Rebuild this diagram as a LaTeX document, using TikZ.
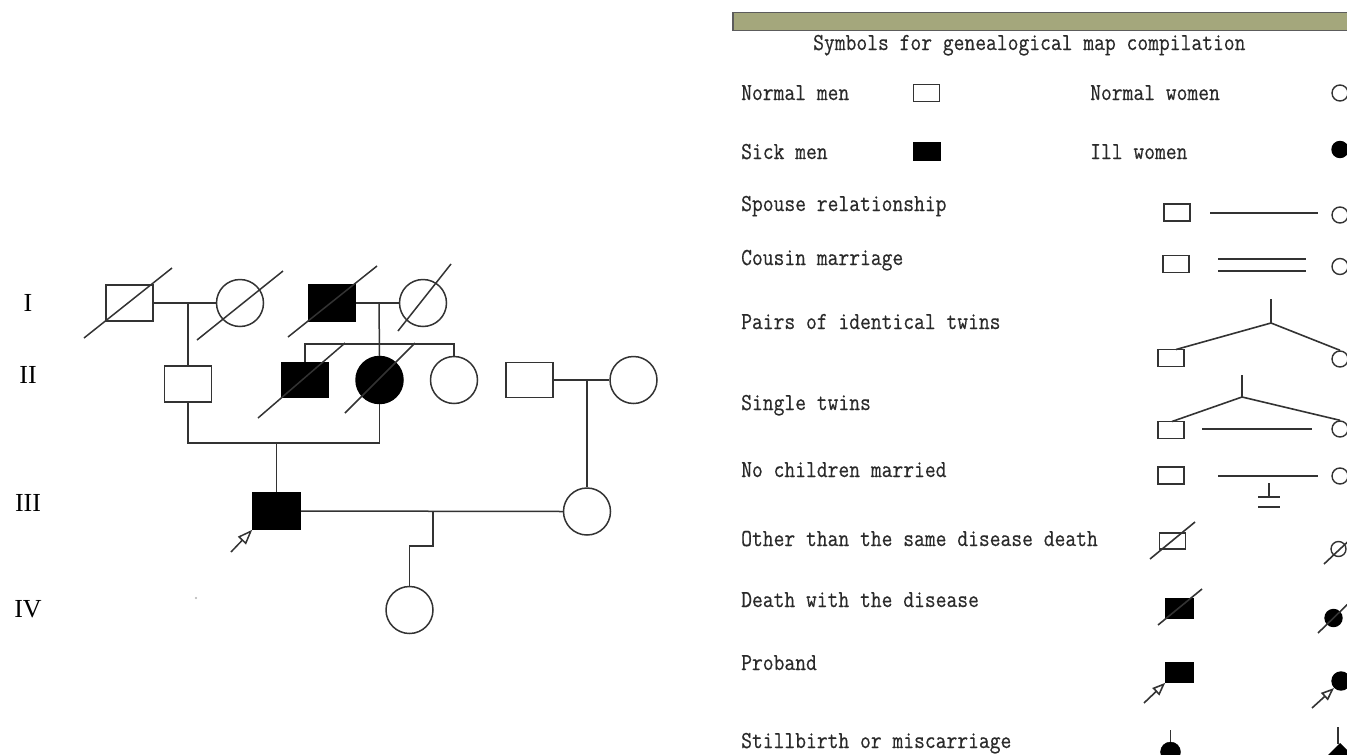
\documentclass[tikz,border=0pt]{standalone}
\usepackage{fontspec}
\setmainfont{Liberation Serif}
\newfontfamily\legendfont[FakeStretch=0.86,FakeBold=0.4]{Latin Modern Mono}
\usetikzlibrary{arrows.meta}
\definecolor{ink}{HTML}{333333}
\definecolor{txt}{HTML}{2A2A2A}
\definecolor{barcol}{HTML}{A4A77C}
\begin{document}
\begin{tikzpicture}[x=1pt,y=-1pt,
  ped/.style={draw=ink, line width=1.5pt},
  msym/.style={rectangle, draw=ink, line width=1.5pt, fill=white, inner sep=0pt, minimum width=47pt, minimum height=36pt},
  fsym/.style={circle, draw=ink, line width=1.5pt, fill=white, inner sep=0pt, minimum size=47pt},
  aff/.style={fill=black, draw=black},
  lsq/.style={rectangle, draw=ink, line width=1.6pt, fill=white, inner sep=0pt, minimum width=26pt, minimum height=17pt},
  lci/.style={circle, draw=ink, line width=1.4pt, fill=white, inner sep=0pt, minimum size=16pt},
  leg/.style={draw=ink, line width=1.6pt},
  lab/.style={anchor=base west, inner sep=0pt, text=txt, font={\fontsize{24.4}{26}\selectfont\legendfont}},
  gen/.style={inner sep=0pt, text=black, font={\fontsize{26}{28}\selectfont}}
]
\useasboundingbox (0,0) rectangle (1347,755);
\clip (0,0) rectangle (1347,755);
\fill[white] (0,0) rectangle (1347,755);

% generation labels
\node[gen] (gI) at (28,303) {I};
\node[gen] (gII) at (28,375) {II};
\node[gen] (gIII) at (28,503) {III};
\node[gen] (gIV) at (28,609) {IV};

% ---------- Generation I
\node[msym] (I1) at (129.5,303) {};
\node[fsym] (I2) at (240,303) {};
\node[msym, aff] (I3) at (332,303) {};
\node[fsym] (I4) at (423,303) {};
\draw[ped] (84,338) -- (172,268);
\draw[ped] (197,340) -- (283,271);
\draw[ped] (288,337) -- (377,266);
\draw[ped] (398,331) -- (451,264);

\coordinate (m1) at (188,303);
\coordinate (m2) at (379,303);
\draw[ped] (I1.east) -- (I2.west);
\draw[ped] (I3.east) -- (I4.west);

% ---------- Generation II
\node[msym] (II1) at (188,384) {};
\node[msym, aff, minimum width=46pt, minimum height=35pt] (II2) at (305,380) {};
\node[fsym, aff] (II3) at (379.5,380) {};
\node[fsym] (II4) at (454,380) {};
\node[msym, minimum height=35pt] (II5) at (529.5,380) {};
\node[fsym] (II6) at (633.5,380) {};

\draw[ped] (m1) -- (II1.north);
\draw[ped] (m2) -- (II3.north);
\coordinate (s1) at (305,344);
\coordinate (s2) at (454,344);
\draw[ped] (II2.north) -- (s1) -- (s2) -- (II4.north);
\draw[ped] (258,418) -- (345,343);
\draw[ped] (345,413) -- (415,343);

\draw[ped] (II5.east) -- (II6.west);
\coordinate (m3) at (587,380);

% ---------- Generation III
\node[msym, aff] (III1) at (276.5,511) {};
\node[fsym] (III2) at (587,511.5) {};
\coordinate (j1) at (276.5,443);
\draw[ped] (II1.south) |- (j1) -| (II3.south);
\draw[ped] (j1) -- (III1.north);
\draw[ped] (m3) -- (III2.north);
\draw[ped] (III1.east) -- (III2.west);
\coordinate (pa) at (231,552);
\draw[ped, -{Triangle[open, length=15pt, width=11pt]}] (pa) -- (III1.south west);

% ---------- Generation IV
\node[fsym] (IV1) at (409.5,610) {};
\coordinate (m4) at (433,511.5);
\coordinate (k1) at (433,546);
\draw[ped] (m4) -- (k1) -| (IV1.north);
\fill[gray!60] (196,598) circle (1.2);

% ---------- Legend
\draw[draw=ink!80, line width=1.2pt, fill=barcol] (733,12.5) rectangle (1360,30.5);
\node[lab] (title) at (813,50) {Symbols for genealogical map compilation};

\node[lab] (t1) at (741,100) {Normal men};
\node[lab] (t2) at (1090,100) {Normal women};
\node[lab] (t3) at (741,159) {Sick men};
\node[lab] (t4) at (1090,159) {Ill women};
\node[lab] (t5) at (741,211) {Spouse relationship};
\node[lab] (t6) at (741,265) {Cousin marriage};
\node[lab] (t7) at (741,329) {Pairs of identical twins};
\node[lab] (t8) at (741,410) {Single twins};
\node[lab] (t9) at (741,477) {No children married};
\node[lab] (t10) at (741,546) {Other than the same disease death};
\node[lab] (t11) at (741,607) {Death with the disease};
\node[lab] (t12) at (741,670) {Proband};
\node[lab] (t13) at (741,748) {Stillbirth or miscarriage};

% normal / sick
\node[lsq] (n1) at (926.5,93) {};
\node[lci] (c1) at (1340,93) {};
\node[lsq, aff] (n2) at (927,151.5) {};
\node[lci, aff] (c2) at (1340,149.5) {};

% spouse
\node[lsq] (n3) at (1177,212.5) {};
\node[lci] (c3) at (1340,215) {};
\coordinate (a3) at (1210,213);
\coordinate (b3) at (1318,213);
\draw[leg] (a3) -- (b3);

% cousin marriage
\node[lsq] (n4) at (1176,264) {};
\node[lci] (c4) at (1340,266.5) {};
\coordinate (a4) at (1218,259);
\coordinate (b4) at (1306,259);
\coordinate (a4b) at (1218,271);
\coordinate (b4b) at (1306,271);
\draw[leg] (a4) -- (b4);
\draw[leg] (a4b) -- (b4b);

% identical twins
\node[lsq] (n5) at (1171,358) {};
\node[lci] (c5) at (1340,359) {};
\coordinate (tw1) at (1271,299);
\coordinate (tw1b) at (1271,323);
\draw[leg] (tw1) -- (tw1b);
\coordinate (n5t) at (1176,349.5);
\draw[leg] (tw1b) -- (n5t);
\draw[leg] (tw1b) -- (c5.north);

% single twins
\node[lsq] (n6) at (1171,430) {};
\node[lci] (c6) at (1340,429) {};
\coordinate (tw2) at (1242,375);
\coordinate (tw2b) at (1242,397);
\draw[leg] (tw2) -- (tw2b);
\coordinate (n6t) at (1172,421.5);
\draw[leg] (tw2b) -- (n6t);
\draw[leg] (tw2b) -- (c6.north);
\coordinate (a6) at (1202,429);
\coordinate (b6) at (1312,429);
\draw[leg] (a6) -- (b6);

% no children married
\node[lsq] (n7) at (1171,475.5) {};
\node[lci] (c7) at (1340,476) {};
\coordinate (a7) at (1218,476);
\coordinate (b7) at (1318,476);
\draw[leg] (a7) -- (b7);
\coordinate (nc1) at (1269,483);
\coordinate (nc2) at (1269,497);
\draw[leg] (nc1) -- (nc2);
\draw[leg] (1258,497) -- (1280,497);
\draw[leg] (1258,507) -- (1280,507);

% other than same disease death
\node[lsq, minimum height=16pt] (n8) at (1172.5,541) {};
\draw[leg] (1150,559) -- (1195,522);
\node[lci, minimum size=15pt] (c8) at (1338.5,549) {};
\draw[leg] (1324,564) -- (1356,534);

% death with the disease
\node[lsq, aff, minimum width=27pt, minimum height=19pt] (n9) at (1179.5,608.5) {};
\draw[leg] (1158,625) -- (1202,589);
\node[lci, aff, minimum size=17pt] (c9) at (1333.5,618) {};
\draw[leg] (1318,633) -- (1352,600);

% proband
\node[lsq, aff, minimum width=27pt, minimum height=19pt] (n10) at (1179.5,672.5) {};
\coordinate (pb1) at (1144,703);
\draw[leg, -{Triangle[open, length=13pt, width=10pt]}] (pb1) -- (n10.south west);
\node[lci, aff, minimum size=18pt] (c10) at (1341,681) {};
\coordinate (pb2) at (1312,708);
\draw[leg, -{Triangle[open, length=13pt, width=10pt]}] (pb2) -- (1334,688);

% stillbirth
\node[circle, aff, inner sep=0pt, minimum size=20pt] (n11) at (1170.5,752) {};
\coordinate (sb1) at (1170.5,730);
\draw[leg] (sb1) -- (n11.north);
\fill[black] (1340,743) -- (1354,757) -- (1340,771) -- (1326,757) -- cycle;
\coordinate (sb2) at (1338,727);
\coordinate (sb3) at (1338,744);
\draw[leg] (sb2) -- (sb3);
\end{tikzpicture}
\end{document}
